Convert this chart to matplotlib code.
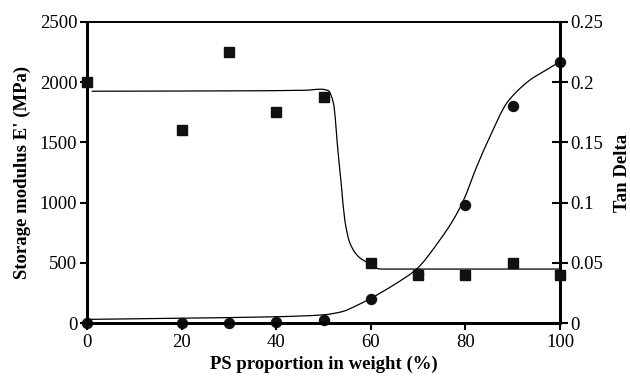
import numpy as np
import matplotlib
matplotlib.use('agg')
import matplotlib.pyplot as plt
from matplotlib.path import Path
from matplotlib.patches import PathPatch

plt.rcParams['font.family'] = ['Liberation Serif', 'DejaVu Serif']

# measured values
ps_wt = [0, 20, 30, 40, 50, 60, 70, 80, 90, 100]
modulus = [2000, 1600, 2250, 1750, 1875, 500, 400, 400, 500, 400]
tan_delta = [0.0, 0.0, 0.0, 0.0005, 0.0025, 0.02, 0.041, 0.098, 0.18, 0.2165]

# knots of the fitted trend lines
fit_mod_x = [1, 30, 46, 49.5, 51, 52.1, 53.1, 53.8, 54.5, 55.6, 57.4, 59.5, 61.2, 62.3, 100]
fit_mod_y = [1925, 1928, 1933, 1942, 1930, 1825, 1409, 1132, 855, 662, 551, 496, 454, 448, 448]
fit_tan_x = [0, 20, 40, 50, 54, 57, 60, 65, 69.7, 74.6, 77.4, 79.6, 82.4, 85.2, 88.7,
             90.8, 93.7, 97, 100]
fit_tan_y = [0.003, 0.004, 0.0052, 0.0068, 0.0095, 0.0145, 0.0205, 0.032, 0.0449, 0.069,
             0.0855, 0.102, 0.130, 0.155, 0.1825, 0.192, 0.202, 0.210, 0.217]


def smooth_path(xs, ys):
    # monotone cubic hermite segments handed to matplotlib as bezier curves
    x = np.asarray(xs, float)
    y = np.asarray(ys, float)
    h = np.diff(x)
    d = np.diff(y) / h
    m = np.zeros_like(y)
    m[0], m[-1] = d[0], d[-1]
    for i in range(1, len(x) - 1):
        if d[i - 1] * d[i] <= 0:
            m[i] = 0
        else:
            w1 = 2 * h[i] + h[i - 1]
            w2 = h[i] + 2 * h[i - 1]
            m[i] = (w1 + w2) / (w1 / d[i - 1] + w2 / d[i])
    verts = [(x[0], y[0])]
    codes = [Path.MOVETO]
    for i in range(len(x) - 1):
        verts += [(x[i] + h[i] / 3, y[i] + m[i] * h[i] / 3),
                  (x[i + 1] - h[i] / 3, y[i + 1] - m[i + 1] * h[i] / 3),
                  (x[i + 1], y[i + 1])]
        codes += [Path.CURVE4] * 3
    return Path(verts, codes)


fig = plt.figure(figsize=(6.3, 3.78), dpi=100)
ax = fig.add_axes([0.138, 0.1455, 0.751, 0.7963])
ax2 = ax.twinx()

ax.set_xlim(0, 100)
ax.set_ylim(0, 2500)
ax2.set_ylim(0, 0.25)

ax.add_patch(PathPatch(smooth_path(fit_mod_x, fit_mod_y), fill=False, color='black', lw=0.9, zorder=2))
ax2.add_patch(PathPatch(smooth_path(fit_tan_x, fit_tan_y), fill=False, color='black', lw=0.9, zorder=2))

ax2.plot(ps_wt, tan_delta, 'o', color='#111111', ms=7.2, clip_on=False, zorder=3)
ax.set_zorder(ax2.get_zorder() + 1)
ax.patch.set_visible(False)
ax.plot(ps_wt, modulus, 's', color='#111111', ms=6.6, clip_on=False, zorder=4)

ax.set_xticks([0, 20, 40, 60, 80, 100])
ax.set_yticks([0, 500, 1000, 1500, 2000, 2500])
ax2.set_yticks([0, 0.05, 0.1, 0.15, 0.2, 0.25])
ax2.set_yticklabels(['0', '0.05', '0.1', '0.15', '0.2', '0.25'])

ax.tick_params(axis='both', direction='out', length=5, width=1.5, labelsize=13.5, pad=2, colors='black')
ax.tick_params(axis='x', pad=3)
ax2.tick_params(axis='y', direction='inout', length=11, width=1.5, labelsize=13.5, pad=2)

for a in (ax, ax2):
    for s in ('left', 'bottom', 'right'):
        a.spines[s].set_linewidth(2.0)
    a.spines['top'].set_linewidth(1.2)

ax.set_xlabel('PS proportion in weight (%)', fontsize=13.5, fontweight='bold', labelpad=3)
ax.set_ylabel("Storage modulus E' (MPa)", fontsize=13.5, fontweight='bold', labelpad=6)
ax2.set_ylabel('Tan Delta', fontsize=13.5, fontweight='bold', rotation=90, labelpad=8)

fig.savefig('out.png', dpi=100)
